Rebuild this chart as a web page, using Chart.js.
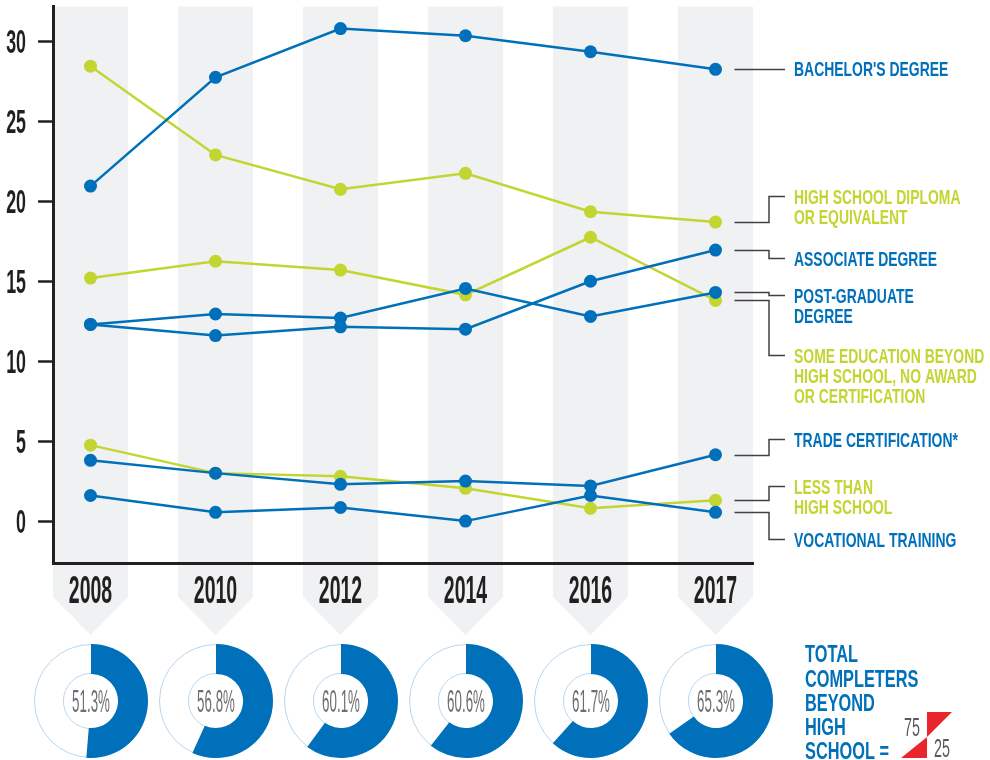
<!DOCTYPE html>
<html>
<head>
<meta charset="utf-8">
<script src="https://cdn.jsdelivr.net/npm/chart.js@4.4.1/dist/chart.umd.min.js"></script>
<style>
	html, body { margin: 0; padding: 0; background: #fff; }
	#wrap { position: relative; width: 990px; height: 760px; }
	#main { position: absolute; left: 0; top: 0; }
	.donut { position: absolute; }
</style>
</head>
<body>
<div id="wrap">
	<canvas id="main" width="990" height="760"></canvas>
</div>
<script>
const years = ['2008', '2010', '2012', '2014', '2016', '2017'];
const yTicks = [0, 5, 10, 15, 20, 25, 30];

// share of completers (%) by highest education level
const bachelors = [20.95, 27.75, 30.8, 30.35, 29.35, 28.25];
const associate = [12.3, 11.6, 12.15, 12.0, 15.0, 16.95];
const postGrad = [12.3, 12.95, 12.7, 14.55, 12.8, 14.3];
const tradeCert = [3.8, 3.0, 2.3, 2.5, 2.2, 4.15];
const vocational = [1.6, 0.55, 0.85, 0.0, 1.6, 0.55];
const highSchool = [28.45, 22.9, 20.75, 21.75, 19.35, 18.7];
const someEducation = [15.2, 16.25, 15.7, 14.15, 17.75, 13.8];
const lessThanHS = [4.75, 3.0, 2.8, 2.05, 0.8, 1.3];

// total completers beyond high school (%)
const completers = [51.3, 56.8, 60.1, 60.6, 61.7, 65.3];

const BLUE = '#0070ba';
const GREEN = '#c3d531';
const INK = '#231f20';
const BAND = '#f0f1f3';

// blue series first so they sit on top of the green ones
const series = [
	{ name: ["BACHELOR'S DEGREE"], data: bachelors, color: BLUE, labelY: 68 },
	{ name: ['ASSOCIATE DEGREE'], data: associate, color: BLUE, labelY: 258 },
	{ name: ['POST-GRADUATE', 'DEGREE'], data: postGrad, color: BLUE, labelY: 295 },
	{ name: ['TRADE CERTIFICATION*'], data: tradeCert, color: BLUE, labelY: 439 },
	{ name: ['VOCATIONAL TRAINING'], data: vocational, color: BLUE, labelY: 539 },
	{ name: ['HIGH SCHOOL DIPLOMA', 'OR EQUIVALENT'], data: highSchool, color: GREEN, labelY: 196 },
	{ name: ['SOME EDUCATION BEYOND', 'HIGH SCHOOL, NO AWARD', 'OR CERTIFICATION'], data: someEducation, color: GREEN, labelY: 355 },
	{ name: ['LESS THAN', 'HIGH SCHOOL'], data: lessThanHS, color: GREEN, labelY: 486 },
];

// squeezed text, since there is no condensed face installed
function narrowText(ctx, text, x, y, size, weight, color, sx, align) {
	ctx.save();
	ctx.font = weight + ' ' + size + 'px "Liberation Sans", Arial, sans-serif';
	ctx.fillStyle = color;
	ctx.textBaseline = 'alphabetic';
	ctx.textAlign = align || 'left';
	ctx.translate(x, y + size * 0.358);
	ctx.scale(sx, 1);
	ctx.fillText(text, 0, 0);
	ctx.restore();
}

const decor = {
	id: 'decor',
	beforeDraw(chart) {
		const { ctx, chartArea, scales: { x } } = chart;
		ctx.save();
		ctx.fillStyle = BAND;
		years.forEach((yr, i) => {
			const cx = x.getPixelForValue(i);
			ctx.beginPath();
			ctx.moveTo(cx - 37.5, chartArea.top);
			ctx.lineTo(cx + 37.5, chartArea.top);
			ctx.lineTo(cx + 37.5, 597);
			ctx.lineTo(cx, 635);
			ctx.lineTo(cx - 37.5, 597);
			ctx.closePath();
			ctx.fill();
		});
		ctx.restore();
	},
	afterDraw(chart) {
		const { ctx, scales: { x, y } } = chart;

		// year labels inside the arrows
		years.forEach((yr, i) => {
			narrowText(ctx, yr, x.getPixelForValue(i), 589, 39, 'bold', INK, 0.5, 'center');
		});

		// y tick labels
		yTicks.forEach(v => {
			narrowText(ctx, String(v), 26, y.getPixelForValue(v), 33, 'bold', INK, 0.54, 'right');
		});

		// connectors + series names on the right
		const last = years.length - 1;
		const x0 = x.getPixelForValue(last) + 19;
		ctx.save();
		ctx.strokeStyle = '#414042';
		ctx.lineWidth = 1.5;
		series.forEach(s => {
			const y0 = Math.round(y.getPixelForValue(s.data[last])) + 0.5;
			let y1 = s.labelY + 0.5;
			if (Math.abs(y1 - y0) < 3) y1 = y0;
			ctx.beginPath();
			ctx.moveTo(x0, y0);
			ctx.lineTo(769, y0);
			ctx.lineTo(769, y1);
			ctx.lineTo(785, y1);
			ctx.stroke();
		});
		ctx.restore();
		series.forEach(s => {
			s.name.forEach((line, k) => {
				narrowText(ctx, line, 794, s.labelY + 1 + k * 20, 20.5, 'bold', s.color, 0.68);
			});
		});

		// "total completers" key
		['TOTAL', 'COMPLETERS', 'BEYOND', 'HIGH', 'SCHOOL ='].forEach((line, k) => {
			narrowText(ctx, line, 805, 654 + k * 24.3, 23, 'bold', BLUE, 0.71);
		});
		ctx.save();
		ctx.fillStyle = '#e8262b';
		ctx.beginPath();
		ctx.moveTo(927, 712); ctx.lineTo(952, 712); ctx.lineTo(927, 737);
		ctx.closePath(); ctx.fill();
		ctx.beginPath();
		ctx.moveTo(927, 737); ctx.lineTo(927, 758); ctx.lineTo(901, 758);
		ctx.closePath(); ctx.fill();
		ctx.restore();
		narrowText(ctx, '75', 912, 727, 26, 'normal', '#58595b', 0.55, 'center');
		narrowText(ctx, '25', 942, 748, 26, 'normal', '#58595b', 0.55, 'center');
	}
};

const config_main = {
	type: 'line',
	data: {
		datasets: series.map(s => ({
			label: s.name.join(' '),
			data: s.data.map((v, i) => ({ x: i, y: v })),
			borderColor: s.color,
			backgroundColor: s.color,
			pointBackgroundColor: s.color,
		}))
	},
	options: {
		responsive: false,
		animation: false,
		events: [],
		layout: {
			padding: { top: 5, right: 237, left: 0, bottom: 0 }
		},
		elements: {
			line: { tension: 0, borderWidth: 2.5 },
			point: { radius: 6.5, borderWidth: 0 }
		},
		plugins: {
			legend: { display: false },
			tooltip: { enabled: false }
		},
		scales: {
			x: {
				type: 'linear',
				min: -0.3,
				max: 5.3,
				afterFit: s => { s.height = 197; },
				ticks: { display: false },
				grid: { display: false },
				border: { display: true, color: INK, width: 3 }
			},
			y: {
				min: -2.62,
				max: 32.18,
				afterFit: s => { s.width = 53; },
				ticks: { display: false, stepSize: 5, includeBounds: false },
				grid: {
					display: true,
					drawOnChartArea: false,
					drawTicks: true,
					tickLength: 15,
					tickColor: INK,
					tickWidth: 2.5
				},
				border: { display: true, color: INK, width: 3 }
			}
		}
	},
	plugins: [decor]
};

const main_chart = new Chart(document.getElementById('main'), config_main);

// thin pale rings + centre text for the doughnuts
const ring = {
	id: 'ring',
	beforeDatasetsDraw(chart) {
		const arc = chart.getDatasetMeta(0).data[0];
		const { ctx } = chart;
		ctx.save();
		ctx.strokeStyle = '#b7d6ee';
		ctx.lineWidth = 1;
		ctx.beginPath();
		ctx.arc(arc.x, arc.y, arc.outerRadius - 0.5, 0, Math.PI * 2);
		ctx.stroke();
		ctx.beginPath();
		ctx.arc(arc.x, arc.y, arc.innerRadius + 0.5, 0, Math.PI * 2);
		ctx.stroke();
		ctx.restore();
	},
	afterDraw(chart) {
		const arc = chart.getDatasetMeta(0).data[0];
		const v = chart.data.datasets[0].data[0];
		narrowText(chart.ctx, v.toFixed(1) + '%', arc.x, arc.y, 31, 'normal', '#6d6e71', 0.43, 'center');
	}
};

const wrap = document.getElementById('wrap');
completers.forEach((p, i) => {
	const c = document.createElement('canvas');
	c.className = 'donut';
	c.width = 120;
	c.height = 120;
	c.style.left = (main_chart.scales.x.getPixelForValue(i) - 60) + 'px';
	c.style.top = (701 - 60) + 'px';
	wrap.appendChild(c);
	new Chart(c, {
		type: 'doughnut',
		data: {
			labels: ['Beyond high school', 'Other'],
			datasets: [{
				data: [p, 100 - p],
				backgroundColor: [BLUE, 'rgba(0,0,0,0)'],
				borderWidth: 0
			}]
		},
		options: {
			responsive: false,
			animation: false,
			events: [],
			radius: 57,
			cutout: 28.5,
			plugins: {
				legend: { display: false },
				tooltip: { enabled: false }
			}
		},
		plugins: [ring]
	});
});
</script>
</body>
</html>
